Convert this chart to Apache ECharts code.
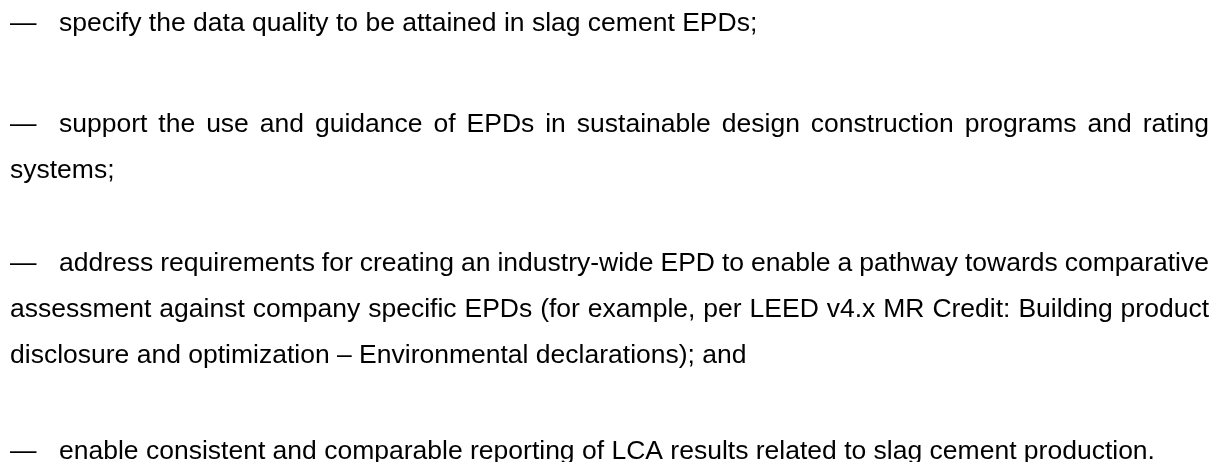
<!DOCTYPE html>
<html>
<head>
<meta charset="utf-8">
<script src="https://cdn.jsdelivr.net/npm/echarts@6/dist/echarts.min.js"></script>
<style>
  html, body { margin: 0; padding: 0; background: #ffffff; }
  #main { width: 1221px; height: 462px; }
</style>
</head>
<body>
<div id="main"></div>
<script>
// list items, line by line as broken in the picture
const bulletMark = '\u2014'
const item1 = ['specify the data quality to be attained in slag cement EPDs;']
const item2 = [
  'support the use and guidance of EPDs in sustainable design construction programs and rating',
  'systems;'
]
const item3 = [
  'address requirements for creating an industry-wide EPD to enable a pathway towards comparative',
  'assessment against company specific EPDs (for example, per LEED v4.x MR Credit: Building product',
  'disclosure and optimization \u2013 Environmental declarations); and'
]
const item4 = ['enable consistent and comparable reporting of LCA results related to slag cement production.']
const items = [item1, item2, item3, item4]

// layout
const fontSize = 26.5
const fontFamily = '"Liberation Sans", Arial, sans-serif'
const font = fontSize + 'px ' + fontFamily
const itemTops = [23, 124, 263, 451] // x-height middle of first line
const lineStep = 46
const dashX = 10
const firstX = 59
const leftX = 10
const rightX = 1209
const midShift = 0.5 // canvas 'middle' vs x-height centre

const ctx = document.createElement('canvas').getContext('2d')
ctx.font = font
const measure = (s) => ctx.measureText(s).width

const graphics = []
const addText = (x, y, s) => {
  graphics.push({
    type: 'text',
    x: x,
    y: y + midShift,
    style: {
      text: s,
      font: font,
      fill: '#000000',
      align: 'left',
      verticalAlign: 'middle'
    }
  })
}

items.forEach((lines, i) => {
  lines.forEach((line, j) => {
    const y = itemTops[i] + j * lineStep
    if (j === 0) addText(dashX, y, bulletMark)
    const x0 = j === 0 ? firstX : leftX
    const isLast = j === lines.length - 1
    if (isLast) {
      addText(x0, y, line)
      return
    }
    // justified line: spread words to the right margin
    const words = line.split(' ')
    const widths = words.map(measure)
    const total = widths.reduce((a, b) => a + b, 0)
    const gap = (rightX - x0 - total) / (words.length - 1)
    let x = x0
    words.forEach((w, k) => {
      addText(x, y, w)
      x += widths[k] + gap
    })
  })
})

const chart = echarts.init(document.getElementById('main'), null, { renderer: 'canvas' })
chart.setOption({
  backgroundColor: '#ffffff',
  animation: false,
  graphic: { elements: graphics }
})
</script>
</body>
</html>
